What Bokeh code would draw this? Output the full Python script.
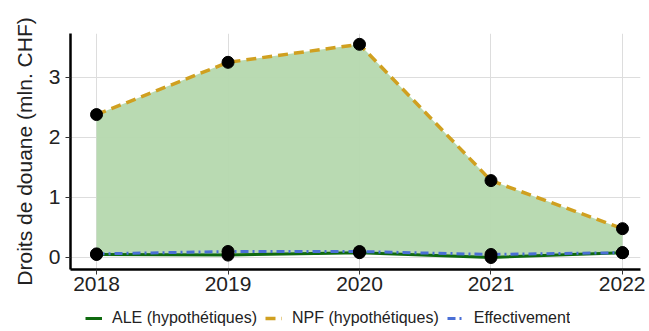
from bokeh.plotting import figure
from bokeh.models import Legend, LegendItem, Range1d, FixedTicker
from bokeh.layouts import column
from bokeh.embed import file_html
from bokeh.resources import INLINE

years = [2018, 2019, 2020, 2021, 2022]
npf = [2.38, 3.25, 3.55, 1.28, 0.48]
ale = [0.05, 0.04, 0.08, 0.00, 0.08]
paid = [0.06, 0.10, 0.10, 0.05, 0.08]
labels = ["ALE (hypothétiques)", "NPF (hypothétiques)", "Effectivement payés"]

ale_style = dict(line_color="#0f6a0f", line_width=3)
npf_style = dict(line_color="#d0a020", line_width=3.5, line_dash="10 6")
paid_style = dict(line_color="#4a6fd6", line_width=3, line_dash="8 4 2 4")

p = figure(frame_width=570, frame_height=236, output_backend="svg", toolbar_location=None,
           x_range=Range1d(2017.802, 2022.137), y_range=Range1d(-0.2, 3.73),
           min_border_left=70, min_border_right=5, min_border_top=33, min_border_bottom=0)

p.varea(x=years, y1=ale, y2=npf, fill_color="#b5d8ae", fill_alpha=0.95)
p.line(years, ale, **ale_style)
p.line(years, npf, **npf_style)
p.line(years, paid, **paid_style)
for ys in (ale, npf, paid):
    p.scatter(years, ys, size=12, color="black")

p.xaxis.ticker = FixedTicker(ticks=years)
p.yaxis.ticker = FixedTicker(ticks=[0, 1, 2, 3])
p.yaxis.axis_label = "Droits de douane (mln. CHF)"
for ax in (p.xaxis, p.yaxis):
    ax.axis_line_width = 2.5
    ax.axis_line_color = "black"
    ax.major_tick_line_color = "#333333"
    ax.major_tick_out = 5
    ax.major_tick_in = 0
    ax.minor_tick_line_color = None
    ax.major_label_text_font = "Liberation Sans"
    ax.major_label_text_font_size = "21px"
    ax.major_label_text_color = "#222222"
p.yaxis.axis_label_text_font = "Liberation Sans"
p.yaxis.axis_label_text_font_size = "21px"
p.yaxis.axis_label_text_font_style = "normal"
p.yaxis.axis_label_text_color = "#222222"
p.yaxis.axis_label_standoff = 10
p.yaxis.major_label_standoff = 5
p.xaxis.major_label_standoff = 2
p.xgrid.grid_line_color = "#dddddd"
p.ygrid.grid_line_color = "#dddddd"
p.outline_line_color = None
p.background_fill_color = "white"

# legend strip below the chart (its lines lie outside its range, only the legend shows)
q = figure(width=575, height=34, output_backend="svg", toolbar_location=None,
           x_range=Range1d(0, 1), y_range=Range1d(0, 1), x_axis_type=None, y_axis_type=None,
           min_border=0, min_border_left=0, min_border_right=0, min_border_top=0, min_border_bottom=0)
q.outline_line_color = None
q.xgrid.visible = False
q.ygrid.visible = False
r_ale = q.line(years, ale, **ale_style)
r_npf = q.line(years, npf, **npf_style)
r_paid = q.line(years, paid, **paid_style)
legend = Legend(items=[
    LegendItem(label=labels[0], renderers=[r_ale]),
    LegendItem(label=labels[1], renderers=[r_npf]),
    LegendItem(label=labels[2], renderers=[r_paid]),
], orientation="horizontal", location=(15, 0), label_text_font="Liberation Sans",
   label_text_font_size="16px", label_text_color="#222222", glyph_width=17, glyph_height=10,
   spacing=8, padding=0, margin=0, border_line_color=None, label_standoff=10,
   label_height=16, background_fill_alpha=0)
q.add_layout(legend, "center")

layout = column(p, q, spacing=0)
open("out.html", "w").write(file_html(layout, INLINE))
